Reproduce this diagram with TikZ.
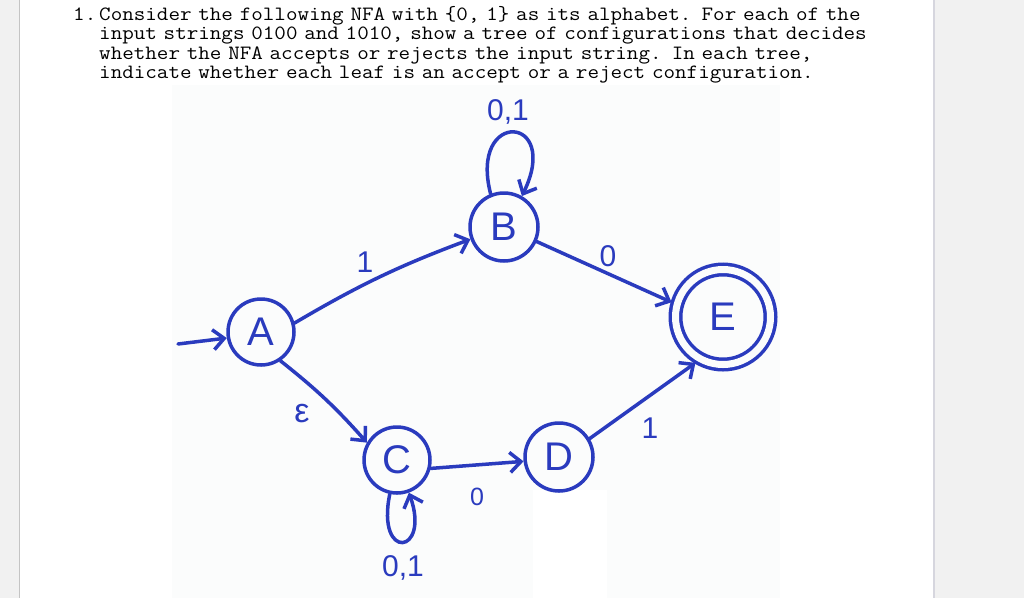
\documentclass[tikz,border=0pt]{standalone}
\usepackage{fontspec}
\usepackage{tikz}
\usetikzlibrary{arrows.meta, positioning, calc}
\newfontfamily\handfont{Liberation Sans}
\newfontfamily\questionfont[FakeStretch=1.105]{Latin Modern Mono}
\definecolor{InkBlue}{HTML}{2A3BBE}
\definecolor{PageGray}{HTML}{F1F1F1}
\definecolor{RuleGray}{HTML}{C4C4C4}
\definecolor{EdgeGray}{HTML}{D6D6DE}
\definecolor{PhotoWhite}{HTML}{FBFCFC}

\begin{document}
\begin{tikzpicture}[x=1pt, y=-1pt, >={Straight Barb[length=11pt, width=20pt]},
    state/.style={draw=InkBlue, line width=3.5pt, circle, minimum size=66pt, inner sep=0pt,
                  text=InkBlue, font=\handfont\fontsize{40}{40}\selectfont},
    accept/.style={state, double=PhotoWhite, double distance=7pt, minimum size=95pt, outer sep=6pt},
    ink/.style={draw=InkBlue, line width=3.5pt, line cap=round},
    lbl/.style={text=InkBlue, font=\handfont\fontsize{30}{30}\selectfont, inner sep=0pt},
    question/.style={inner sep=0pt, font=\questionfont\fontsize{20.3}{19.5}\selectfont}]
    % page and photo background
    \useasboundingbox (0,0) rectangle (1024,598);
    \fill[white] (0,0) rectangle (1024,598);
    \fill[PageGray] (0,0) rectangle (19,598);
    \draw[RuleGray, line width=1.5pt] (19.5,0) -- (19.5,598);
    \fill[PageGray] (934,0) rectangle (1024,598);
    \draw[EdgeGray, line width=2pt] (934,0) -- (934,598);
    \fill[PhotoWhite] (172,85) rectangle (780,598);
    \fill[white] (533,490) rectangle (607,598);

    % question text
    \node[question, anchor=base west] (num) at (73,20) {1.};
    \node[question, anchor=base west, text width=860pt, align=left] (task) at (99,20)
        {Consider the following NFA with \{0, 1\} as its alphabet. For each of the\\
         input strings 0100 and 1010, show a tree of configurations that decides\\
         whether the NFA accepts or rejects the input string. In each tree,\\
         indicate whether each leaf is an accept or a reject configuration.};

    % states
    \node[state] (A) at (261,332) {A};
    \node[state, minimum size=68pt] (B) at (504,227) {B};
    \node[state] (C) at (397,460) {C};
    \node[state, minimum size=68pt] (D) at (559,457) {D};
    \node[accept] (E) at (723,317) {E};
    \coordinate (start) at (178,344);

    % transitions
    \draw[ink, ->] (start) -- (A.190);
    \draw[ink, ->] (A.15) to[bend left=5] (B.200);
    \draw[ink, ->] (B.336) -- (E.164);
    \draw[ink, ->] (A.304) to[bend left=5] (C.150);
    \draw[ink, ->] (C.346) -- (D.187);
    \draw[ink, ->] (D.31) -- (E.239);
    \draw[ink, ->] (B.112) .. controls +(-22,-85) and +(40,-82) .. (B.60);
    \draw[ink, ->] (C.258) .. controls +(-14,68) and +(22,62) .. (C.290);

    % labels
    \node[lbl] (lB) at (508,112) {0,1};
    \node[lbl] (lAB) at (365,262) {1};
    \node[lbl] (lBE) at (608,256) {0};
    \node[lbl, font=\handfont\fontsize{34}{34}\selectfont] (lAC) at (302,414) {ε};
    \node[lbl, font=\handfont\fontsize{25}{25}\selectfont] (lCD) at (477,497) {0};
    \node[lbl] (lDE) at (650,428) {1};
    \node[lbl] (lC) at (403,568) {0,1};
\end{tikzpicture}
\end{document}
